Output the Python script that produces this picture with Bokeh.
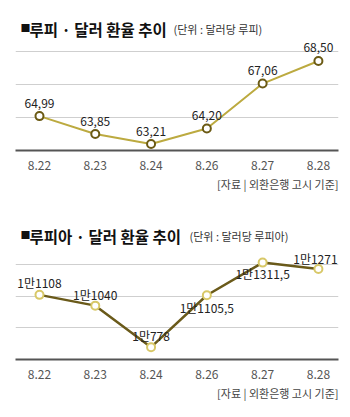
from bokeh.plotting import figure
from bokeh.models import ColumnDataSource, LabelSet, Label, FixedTicker, Range1d, Title
from bokeh.core.properties import value
from bokeh.layouts import column
from bokeh.embed import file_html
from bokeh.resources import INLINE

dates = ["8.22", "8.23", "8.24", "8.26", "8.27", "8.28"]
rupee = [64.99, 63.85, 63.21, 64.20, 67.06, 68.50]
rupee_labels = ["64,99", "63,85", "63,21", "64,20", "67,06", "68,50"]
rupee_ticks = [62.8, 64.9, 67.0, 69.1]
rupiah = [11108, 11040, 10778, 11105.5, 11311.5, 11271]
rupiah_labels = ["1만1108", "1만1040", "1만778", "1만1105,5", "1만1311,5", "1만1271"]
rupiah_ticks = [10700, 10900, 11100, 11300]
source_text = "[자료 | 외환은행 고시 기준]"

FONT = "Noto Sans CJK KR"


def make_chart(values, labels, ticks, y_start, y_end, height, title, subtitle,
               sub_x, line_color, line_width, mk_line, label_dy, label_dx, title_y):
    idx = list(range(len(dates)))
    src = ColumnDataSource(dict(x=idx, y=values, lab=labels, dy=label_dy, dx=label_dx))
    p = figure(width=350, height=height, output_backend="svg", toolbar_location=None,
               x_range=Range1d(-0.43, 5.36), y_range=Range1d(y_start, y_end),
               min_border_left=15, min_border_right=12, min_border_top=0,
               min_border_bottom=58, outline_line_color=None,
               background_fill_color="white", border_fill_color="white")
    p.yaxis.visible = False
    p.xgrid.visible = False
    p.yaxis.ticker = FixedTicker(ticks=ticks)
    p.ygrid.ticker = FixedTicker(ticks=ticks)
    p.ygrid.grid_line_color = "#cfcfcf"
    p.ygrid.grid_line_width = 1
    p.xaxis.ticker = FixedTicker(ticks=idx)
    p.xaxis.major_label_overrides = {i: d for i, d in enumerate(dates)}
    p.xaxis.axis_line_color = "#555555"
    p.xaxis.axis_line_width = 2
    p.xaxis.major_tick_line_color = None
    p.xaxis.minor_tick_line_color = None
    p.xaxis.major_label_text_font = FONT
    p.xaxis.major_label_text_font_size = "12px"
    p.xaxis.major_label_text_color = "#555555"
    p.xaxis.major_label_standoff = 4

    p.line("x", "y", source=src, line_color=line_color, line_width=line_width)
    p.scatter("x", "y", source=src, size=8, fill_color="white", line_color=mk_line, line_width=2)

    p.add_layout(LabelSet(x="x", y="y", text="lab", source=src, y_offset="dy", x_offset="dx",
                          text_align="center", text_baseline="middle",
                          text_font=value(FONT), text_font_size="12px", text_color="#222222"))

    p.add_layout(Label(x=5, y=title_y + 1, x_units="screen", y_units="screen", text="■",
                       text_font=FONT, text_font_size="10px", text_color="#111111",
                       text_baseline="alphabetic"))
    p.add_layout(Label(x=14, y=title_y, x_units="screen", y_units="screen", text=title,
                       text_font=FONT, text_font_size="15.5px", text_font_style="bold",
                       text_color="#111111", text_baseline="alphabetic"))
    p.add_layout(Label(x=sub_x, y=title_y, x_units="screen", y_units="screen", text=subtitle,
                       text_font=FONT, text_font_size="11px", text_color="#333333",
                       text_baseline="alphabetic"))
    p.add_layout(Title(text=source_text, align="right", text_font=FONT,
                       text_font_size="11px", text_font_style="normal",
                       text_color="#444444", standoff=2), "below")
    return p


p1 = make_chart(rupee, rupee_labels, rupee_ticks, 62.8, 72.35, 208,
                "루피 · 달러 환율 추이", "(단위 : 달러당 루피)", 158,
                "#bcaa40", 2, "#6b5a14", [13, 13, 13, 13, 13, 13], [0, 0, 0, 0, 0, 0], 122)
p2 = make_chart(rupiah, rupiah_labels, rupiah_ticks, 10700, 11653, 209,
                "루피아 · 달러 환율 추이", "(단위 : 달러당 루피아)", 174,
                "#6a5a1a", 2.5, "#d8c868", [12, 11, 12, -12, -11, 11], [0, 0, 0, 0, 0, -3], 124)

layout = column(p1, p2, spacing=0)
open("out.html", "w").write(file_html(layout, INLINE))
